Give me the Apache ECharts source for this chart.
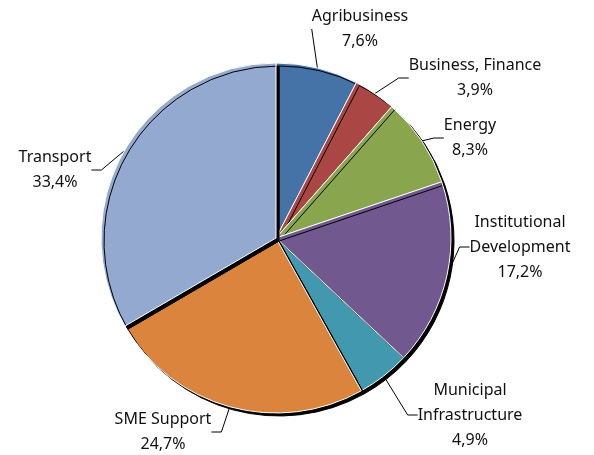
<!DOCTYPE html>
<html>
<head>
<meta charset="utf-8">
<script src="https://cdn.jsdelivr.net/npm/echarts@6/dist/echarts.min.js"></script>
<style>
  html, body { margin: 0; padding: 0; background: #fff; }
  #chart { width: 594px; height: 455px; }
</style>
</head>
<body>
<div id="chart"></div>
<script>
// sector shares (%)
const sectors = ['Agribusiness', 'Business, Finance', 'Energy', 'Institutional\nDevelopment',
  'Municipal\nInfrastructure', 'SME Support', 'Transport']
const shares = [7.6, 3.9, 8.3, 17.2, 4.9, 24.7, 33.4]
const colors = ['#4572A7', '#AA4643', '#89A54E', '#71588F', '#4198AF', '#DB843D', '#93A9CF']

// where each label block sits (center of text)
const labelSpots = [[360, 29], [475, 78], [470, 138], [520, 247], [470, 415], [163, 432], [55, 170]]

const chart = echarts.init(document.getElementById('chart'))

chart.setOption({
  animation: false,
  series: [
    {
      type: 'pie',
      center: [276, 238],
      radius: 175,
      startAngle: 90,
      clockwise: true,
      itemStyle: {
        borderColor: '#fff',
        borderWidth: 1,
        shadowColor: '#000',
        shadowBlur: 0,
        shadowOffsetX: 3,
        shadowOffsetY: 3
      },
      label: {
        show: true,
        position: 'outside',
        align: 'center',
        color: '#111',
        fontFamily: 'Noto Sans',
        fontSize: 16,
        lineHeight: 25,
        formatter: p => p.name + '\n' + String(p.value).replace('.', ',') + '%'
      },
      labelLine: {
        show: true,
        length: 10,
        length2: 10,
        lineStyle: { color: '#000', width: 1 }
      },
      labelLayout: p => ({
        x: labelSpots[p.dataIndex][0],
        y: labelSpots[p.dataIndex][1],
        align: 'center',
        verticalAlign: 'middle'
      }),
      emphasis: { disabled: true },
      data: sectors.map((s, i) => ({
        name: s,
        value: shares[i],
        itemStyle: { color: colors[i] }
      }))
    }
  ]
})
</script>
</body>
</html>
